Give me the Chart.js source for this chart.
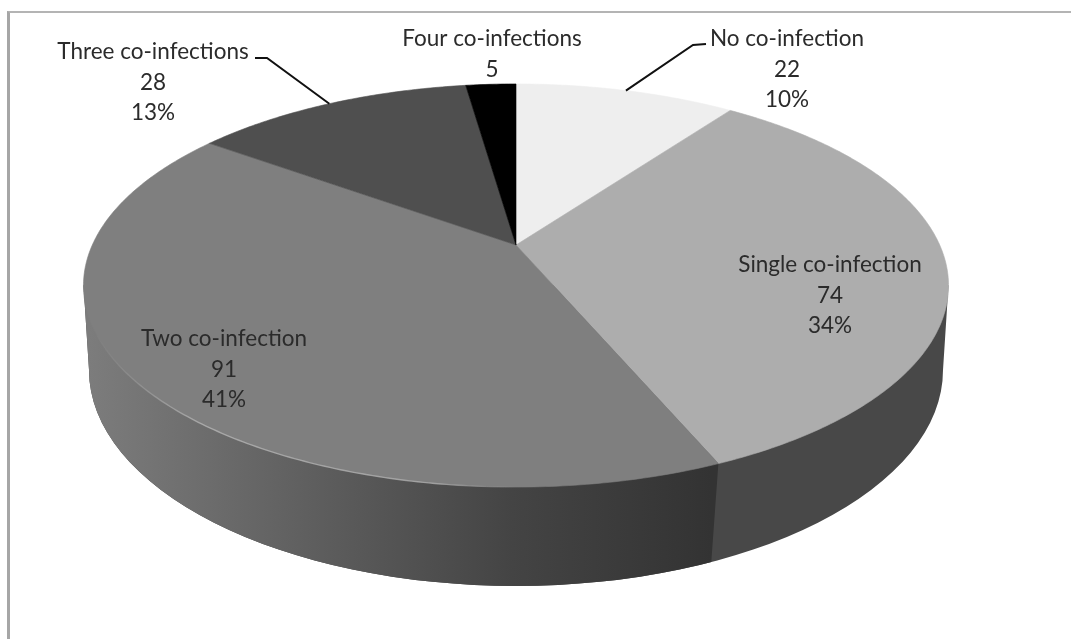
<!DOCTYPE html>
<html>
<head>
<meta charset="utf-8">
<title>Co-infections</title>
<script src="https://cdn.jsdelivr.net/npm/chart.js@4/dist/chart.umd.js"></script>
<style>
  html, body { margin: 0; padding: 0; background: #fff; overflow: hidden; }
  #stage { position: relative; width: 1071px; height: 639px; }
  #frame { position: absolute; left: 7px; top: 11px; right: 0; bottom: 0;
           border-left: 3px solid #a6a6a6; border-top: 2px solid #b4b4b4; }
  canvas { position: absolute; left: 0; top: 0; }
</style>
</head>
<body>
<div id="stage">
  <div id="frame"></div>
  <canvas id="chart" width="1071" height="639"></canvas>
</div>
<script>
const categories = ['No co-infection', 'Single co-infection', 'Two co-infection', 'Three co-infections', 'Four co-infections'];
const counts = [22, 74, 91, 28, 5];
const percentLabels = ['10%', '34%', '41%', '13%', ''];
const sliceColors = ['#eeeeee', '#adadad', '#7f7f7f', '#4f4f4f', '#000000'];

// Label anchors (centre x, first line y) and the slices that get a leader line.
const labelAnchors = [[787, 39], [830, 265], [224, 339], [153, 52], [492, 39]];
const leaderElbows = { 0: [[693, 45], [706, 44]], 3: [[267, 58], [255, 58]] };
const LINE_STEP = 30.5;

// Perspective of the tilted disc, in units of the pie radius.
const TILT = { a: 2.1185, b: 0.967, c: -0.201 };
// Lower edge of the extruded wall, relative to the pie centre.
const WALL = { cy: 0.625, rx: 2.135, ry: 1.08, divider: 0.965 };

function rimPoint(arc, angle) {
  const u = Math.cos(angle), v = Math.sin(angle);
  const d = 1 + TILT.c * v, r = arc.outerRadius;
  return { x: arc.x + r * TILT.a * u / d, y: arc.y + r * TILT.b * v / d };
}

function traceRim(ctx, arc, from, to) {
  const steps = Math.max(8, Math.ceil((to - from) * 90));
  for (let i = 0; i <= steps; i++) {
    const p = rimPoint(arc, from + (to - from) * i / steps);
    ctx.lineTo(p.x, p.y);
  }
}

function drawWall(ctx, arcs) {
  const a = arcs[0], r = a.outerRadius;
  const cy = a.y + WALL.cy * r, rx = WALL.rx * r, ry = WALL.ry * r;
  const rimMidY = a.y + 0.2015 * r;
  const top = rimPoint(a, arcs[2].startAngle);
  const cosB = ((top.x - a.x) * WALL.divider) / rx;
  const divX = a.x + (top.x - a.x) * WALL.divider;
  const divY = cy + ry * Math.sqrt(1 - cosB * cosB);
  const topReach = 2.1625 * r;

  const body = () => {
    ctx.beginPath();
    ctx.moveTo(a.x - topReach, rimMidY);
    ctx.lineTo(a.x - rx, cy);
    ctx.ellipse(a.x, cy, rx, ry, 0, Math.PI, 0, true);
    ctx.lineTo(a.x + topReach, rimMidY);
    ctx.closePath();
  };

  // Wall under the second slice, painted across the whole body first.
  body();
  ctx.fillStyle = '#484848';
  ctx.fill();

  // Wall under the largest slice, shaded from left to right.
  ctx.save();
  ctx.beginPath();
  ctx.moveTo(0, 0);
  ctx.lineTo(top.x, 0);
  ctx.lineTo(top.x, top.y);
  ctx.lineTo(divX, divY);
  ctx.lineTo(divX, 639);
  ctx.lineTo(0, 639);
  ctx.closePath();
  ctx.clip();
  const g = ctx.createLinearGradient(a.x - rx, 0, divX, 0);
  g.addColorStop(0, '#7c7c7c');
  g.addColorStop(0.35, '#5f5f5f');
  g.addColorStop(0.68, '#444444');
  g.addColorStop(1, '#333333');
  body();
  ctx.fillStyle = g;
  ctx.fill();
  ctx.restore();
}

const tiltedPie = {
  id: 'tiltedPie',
  beforeDatasetsDraw(chart) {
    const ctx = chart.ctx;
    const arcs = chart.getDatasetMeta(0).data;
    ctx.save();
    drawWall(ctx, arcs);
    arcs.forEach((arc) => {
      const color = arc.options.backgroundColor;
      ctx.beginPath();
      ctx.moveTo(arc.x, arc.y);
      traceRim(ctx, arc, arc.startAngle, arc.endAngle);
      ctx.closePath();
      ctx.fillStyle = color;
      ctx.strokeStyle = color;
      ctx.lineWidth = 0.6;
      ctx.fill();
      ctx.stroke();
    });

    // Soft highlight along the front edge of the largest slice, fading at both ends.
    const big = arcs[2];
    const hl = ctx.createLinearGradient(big.x - 2.1 * big.outerRadius, 0, big.x, 0);
    hl.addColorStop(0, 'rgba(205,205,205,0)');
    hl.addColorStop(0.25, 'rgba(205,205,205,0.55)');
    hl.addColorStop(0.8, 'rgba(205,205,205,0.5)');
    hl.addColorStop(1, 'rgba(205,205,205,0)');
    ctx.beginPath();
    traceRim(ctx, big, big.startAngle + 0.3, Math.PI);
    ctx.strokeStyle = hl;
    ctx.lineWidth = 1.4;
    ctx.stroke();

    // Leader lines start at the middle of their slice's rim.
    ctx.strokeStyle = '#111';
    ctx.lineWidth = 2;
    Object.keys(leaderElbows).forEach((i) => {
      const arc = arcs[i];
      const p = rimPoint(arc, (arc.startAngle + arc.endAngle) / 2);
      ctx.beginPath();
      ctx.moveTo(p.x, p.y);
      leaderElbows[i].forEach(([x, y]) => ctx.lineTo(x, y));
      ctx.stroke();
    });

    // Labels: name, count and share on separate lines.
    ctx.font = '22.5px Lato, "Open Sans", sans-serif';
    ctx.textAlign = 'center';
    ctx.textBaseline = 'middle';
    ctx.fillStyle = '#2b2b2b';
    categories.forEach((name, i) => {
      const [x, y] = labelAnchors[i];
      [name, String(counts[i]), percentLabels[i]].forEach((line, k) => {
        if (line) ctx.fillText(line, x, y + k * LINE_STEP);
      });
    });
    ctx.restore();
    return false;
  }
};

new Chart(document.getElementById('chart'), {
  type: 'pie',
  data: {
    labels: categories,
    datasets: [{ data: counts, backgroundColor: sliceColors, borderWidth: 0 }]
  },
  options: {
    responsive: false,
    animation: false,
    layout: { padding: { left: 316, right: 355, top: 45, bottom: 194 } },
    plugins: { legend: { display: false }, tooltip: { enabled: false } }
  },
  plugins: [tiltedPie]
});
</script>
</body>
</html>
